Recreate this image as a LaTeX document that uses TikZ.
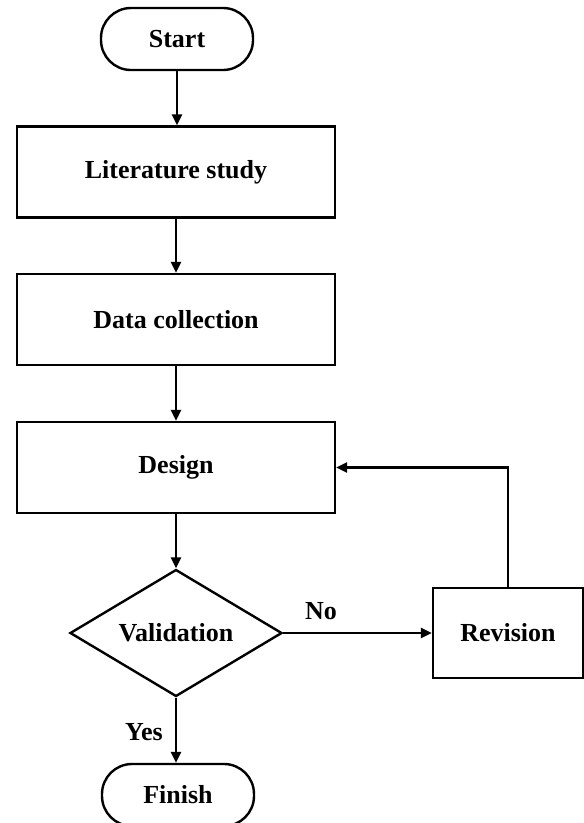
\documentclass[tikz,border=0pt]{standalone}
\usepackage{fontspec}
\setmainfont{Liberation Serif}
\usetikzlibrary{shapes.geometric,arrows.meta}
\begin{document}
\begin{tikzpicture}[x=1pt,y=-1pt,
  every node/.style={font=\fontsize{26}{30}\selectfont\bfseries},
  term/.style={draw,line width=2.4pt,rounded corners=30pt,minimum width=152pt,minimum height=62pt,inner sep=0pt},
  proc/.style={draw,line width=2.4pt,minimum width=318pt,minimum height=91pt,inner sep=0pt},
  dec/.style={draw,line width=2.4pt,diamond,aspect=1.67,minimum width=212pt,minimum height=127pt,inner sep=0pt},
  revbox/.style={draw,line width=2.4pt,minimum width=150pt,minimum height=90pt,inner sep=0pt},
  arr/.style={line width=2.4pt,-{Triangle[length=11pt,width=10pt]}},
  lbl/.style={inner sep=0pt}]
\useasboundingbox (0,0) rectangle (584,823);
\fill[white] (0,0) rectangle (584,823);
\node[term] (start) at (177,39) {Start};
\node[proc] (lit) at (176,172) {Literature study};
\node[proc] (data) at (176,319.5) {Data collection};
\node[proc] (des) at (176,467.5) {Design};
\node[dec] (val) at (176,633) {Validation};
\node[revbox] (rev) at (508,633) {Revision};
\node[term] (fin) at (178,795) {Finish};
\draw[arr] (start.south) -- (start.south |- lit.north);
\draw[arr] (lit.south) -- (data.north);
\draw[arr] (data.south) -- (des.north);
\draw[arr] (des.south) -- (val.north);
\draw[arr] (val.east) -- (rev.west);
\draw[arr] (rev.north) |- (des.east);
\draw[arr] (val.south) -- (fin.north -| val.south);
\node[lbl] (no) at (321,611) {No};
\node[lbl,anchor=east] (yes) at (163,732) {Yes};
\end{tikzpicture}
\end{document}
